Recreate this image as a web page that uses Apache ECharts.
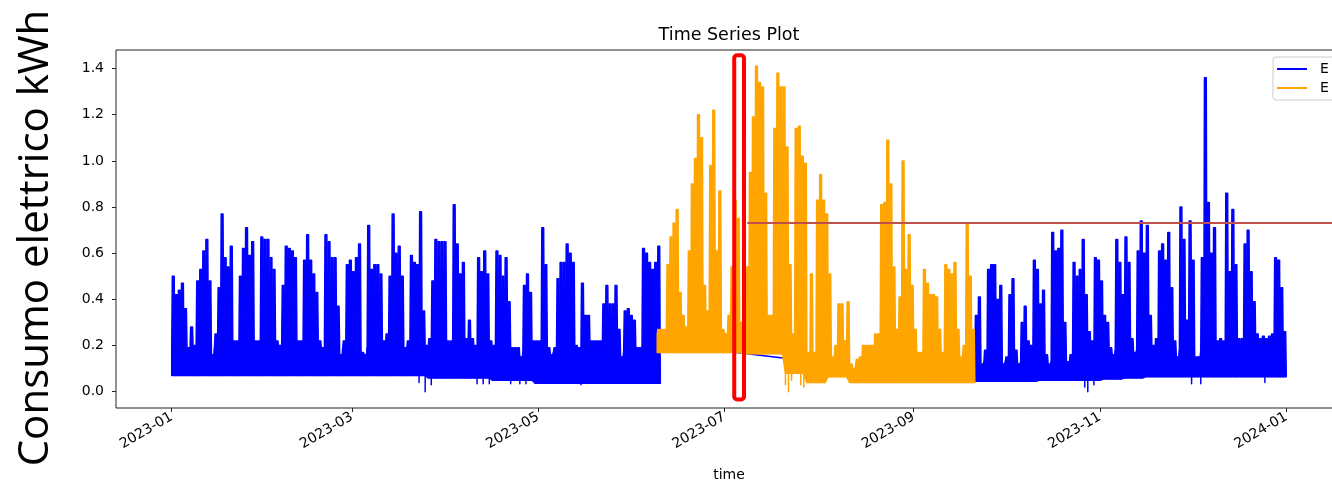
<!DOCTYPE html>
<html>
<head>
<meta charset="utf-8">
<title>Time Series Plot</title>
<script src="https://cdn.jsdelivr.net/npm/echarts@6.0.0/dist/echarts.min.js"></script>
<style>
	html, body { margin: 0; padding: 0; background: #fff; }
	#chart { width: 1332px; height: 483px; }
</style>
</head>
<body>
<div id="chart"></div>
<script>
//------------------------data------------------//
// one value per day = the highest reading of that day
var blue1Start = '2023-01-01';
var blue1Peaks = [
	0.50, 0.42, 0.44, 0.47, 0.36, 0.19, 0.28, 0.20, 0.48, 0.53,
	0.61, 0.66, 0.48, 0.16, 0.25, 0.45, 0.77, 0.58, 0.54, 0.63,
	0.22, 0.22, 0.50, 0.62, 0.71, 0.59, 0.65, 0.22, 0.22, 0.67,
	0.66, 0.66, 0.58, 0.53, 0.22, 0.20, 0.46, 0.63, 0.62, 0.61,
	0.58, 0.22, 0.22, 0.57, 0.68, 0.57, 0.51, 0.43, 0.22, 0.19,
	0.68, 0.65, 0.58, 0.58, 0.37, 0.16, 0.22, 0.55, 0.57, 0.52,
	0.58, 0.64, 0.17, 0.16, 0.72, 0.53, 0.55, 0.55, 0.51, 0.22,
	0.25, 0.50, 0.77, 0.60, 0.63, 0.50, 0.19, 0.22, 0.59, 0.56,
	0.55, 0.78, 0.35, 0.20, 0.23, 0.48, 0.66, 0.65, 0.65, 0.65,
	0.22, 0.22, 0.81, 0.64, 0.51, 0.56, 0.23, 0.31, 0.23, 0.20,
	0.58, 0.52, 0.61, 0.51, 0.22, 0.20, 0.61, 0.59, 0.50, 0.58,
	0.39, 0.19, 0.19, 0.19, 0.15, 0.46, 0.51, 0.43, 0.22, 0.22,
	0.22, 0.71, 0.55, 0.19, 0.16, 0.19, 0.49, 0.56, 0.56, 0.64,
	0.60, 0.56, 0.20, 0.19, 0.47, 0.33, 0.33, 0.22, 0.22, 0.22,
	0.22, 0.38, 0.46, 0.38, 0.38, 0.46, 0.27, 0.15, 0.35, 0.36,
	0.33, 0.31, 0.19, 0.19, 0.62, 0.60, 0.56, 0.53, 0.56, 0.63
];
// floor of the dense band and its top (night level), one per week
var blue1WeekLow = [0.07, 0.07, 0.07, 0.07, 0.07, 0.07, 0.07, 0.07, 0.07, 0.07, 0.07, 0.07,
	0.06, 0.06, 0.06, 0.05, 0.05, 0.037, 0.037, 0.037, 0.037, 0.037, 0.037];
var blue1WeekBand = [0.19, 0.19, 0.19, 0.19, 0.19, 0.19, 0.19, 0.19, 0.19, 0.19, 0.19, 0.19,
	0.19, 0.17, 0.17, 0.17, 0.17, 0.17, 0.17, 0.17, 0.17, 0.17, 0.17];
// [day of year, value] readings that fall under the band
var blue1Dips = [[81, 0.04], [83, 0.0], [85, 0.03], [100, 0.035], [102, 0.035], [104, 0.035],
	[111, 0.035], [114, 0.035], [116, 0.035], [134, 0.03]];

var orangeStart = '2023-06-09';
var orangePeaks = [
	0.27, 0.27, 0.27, 0.55, 0.67, 0.73, 0.79, 0.43, 0.33, 0.28,
	0.61, 0.90, 1.01, 1.20, 1.10, 0.46, 0.35, 0.98, 1.22, 0.61,
	0.87, 0.27, 0.25, 0.33, 0.54, 0.83, 0.75, 0.30, 0.25, 0.54,
	0.95, 1.19, 1.41, 1.34, 1.32, 0.86, 0.33, 0.33, 1.14, 1.38,
	1.32, 1.32, 1.06, 0.55, 0.25, 1.14, 1.15, 1.02, 0.99, 0.17,
	0.51, 0.17, 0.83, 0.94, 0.83, 0.77, 0.51, 0.15, 0.20, 0.38,
	0.38, 0.22, 0.39, 0.12, 0.10, 0.14, 0.15, 0.20, 0.20, 0.20,
	0.20, 0.25, 0.25, 0.81, 0.82, 1.09, 0.90, 0.54, 0.27, 0.41,
	1.00, 0.53, 0.68, 0.46, 0.27, 0.17, 0.17, 0.53, 0.47, 0.42,
	0.42, 0.41, 0.27, 0.17, 0.55, 0.53, 0.51, 0.56, 0.27, 0.15,
	0.20, 0.73, 0.50, 0.27
];
var orangeWeekLow = [0.17, 0.17, 0.17, 0.17, 0.165, 0.165, 0.08, 0.04, 0.065, 0.04, 0.04, 0.04, 0.04, 0.04, 0.04];
var orangeWeekBand = [0.25, 0.25, 0.25, 0.25, 0.25, 0.25, 0.2, 0.12, 0.15, 0.12, 0.15, 0.18, 0.15, 0.15, 0.15];
var orangeDips = [[201, 0.03], [202, 0.0], [203, 0.05], [206, 0.03], [207, 0.02]];

var blue2Start = '2023-09-21';
var blue2Peaks = [
	0.33, 0.41, 0.12, 0.18, 0.53, 0.55, 0.55, 0.40, 0.46, 0.12,
	0.15, 0.42, 0.49, 0.18, 0.12, 0.30, 0.37, 0.22, 0.20, 0.57,
	0.53, 0.38, 0.44, 0.16, 0.12, 0.69, 0.61, 0.62, 0.70, 0.30,
	0.13, 0.16, 0.56, 0.50, 0.53, 0.66, 0.42, 0.26, 0.22, 0.58,
	0.57, 0.48, 0.33, 0.30, 0.19, 0.16, 0.66, 0.56, 0.42, 0.67,
	0.56, 0.23, 0.17, 0.61, 0.74, 0.60, 0.72, 0.33, 0.20, 0.23,
	0.61, 0.64, 0.57, 0.69, 0.45, 0.22, 0.15, 0.80, 0.66, 0.31,
	0.74, 0.57, 0.15, 0.15, 0.58, 1.36, 0.82, 0.60, 0.71, 0.22,
	0.23, 0.22, 0.86, 0.52, 0.79, 0.55, 0.23, 0.23, 0.64, 0.70,
	0.52, 0.39, 0.25, 0.23, 0.24, 0.23, 0.24, 0.25, 0.58, 0.57,
	0.45, 0.26
];
var blue2WeekLow = [0.045, 0.045, 0.045, 0.05, 0.05, 0.05, 0.055, 0.06, 0.065, 0.065, 0.065, 0.065, 0.065, 0.065, 0.065];
var blue2WeekBand = [0.13, 0.13, 0.13, 0.13, 0.13, 0.13, 0.18, 0.18, 0.18, 0.18, 0.18, 0.18, 0.18, 0.18, 0.18];
var blue2Dips = [[299, 0.02], [300, 0.0], [302, 0.03], [334, 0.035], [337, 0.035], [358, 0.04]];

// straight blue line across the missing stretch
var blueGapTimes = ['2023-06-09 10:00', '2023-07-30 12:00'];
var blueGapValues = [0.21, 0.13];

var xTickLabels = ['2023-01', '2023-03', '2023-05', '2023-07', '2023-09', '2023-11', '2024-01'];
var yTickValues = [0, 0.2, 0.4, 0.6, 0.8, 1.0, 1.2, 1.4];
var legendLabels = { 'E_blue': 'E', 'E_orange': 'E' };

// annotations added on top of the plot
var redBoxFrom = '2023-07-04 05:00';
var redBoxTo = '2023-07-07 10:00';
var redBoxTop = 1.458;
var redBoxBottom = -0.034;
var redLineFrom = '2023-07-08 12:00';
var redLineValue = 0.73;

//------------------------helpers------------------//
// x is measured in days from 2023-01-01
var DAY = 86400000;
var T0 = Date.UTC(2023, 0, 1);

function dayOf(str) {
	var p = str.split(/[- :]/);
	var t = Date.UTC(+p[0], p[1] - 1, +(p[2] || 1), +(p[3] || 0), +(p[4] || 0));
	return (t - T0) / DAY;
}

// one item per day: [day, floor, first reading, night level, peak, next night level, next floor]
function buildBand(start, peaks, weekLow, weekBand, dips) {
	var dipMap = {};
	dips.forEach(function (p) { dipMap[p[0]] = p[1]; });
	var s = Math.round(dayOf(start));
	var n = peaks.length;
	function lowAt(i) { return weekLow[Math.floor(Math.min(i, n - 1) / 7)]; }
	function nightAt(i) {
		if (i >= n) return lowAt(n - 1);
		return Math.min(peaks[i], weekBand[Math.floor(i / 7)]);
	}
	function firstAt(i) {
		return dipMap[s + i] !== undefined ? dipMap[s + i] : lowAt(i);
	}
	var items = [];
	for (var i = 0; i < n; i++) {
		items.push([s + i, lowAt(i), firstAt(i), nightAt(i), peaks[i], nightAt(i + 1), lowAt(i + 1)]);
	}
	return items;
}

// the day's peak is held through the middle of the day
function renderBand(color) {
	return function (params, api) {
		var d = api.value(0);
		var pts = [
			api.coord([d, api.value(1)]),
			api.coord([d, api.value(2)]),
			api.coord([d, api.value(3)]),
			api.coord([d + 0.2, api.value(4)]),
			api.coord([d + 0.8, api.value(4)]),
			api.coord([d + 1, api.value(5)]),
			api.coord([d + 1, api.value(6)])
		];
		return {
			type: 'polygon',
			shape: { points: pts },
			style: { fill: color, stroke: color, lineWidth: 1.5, lineJoin: 'round' }
		};
	};
}

function bandSeries(name, items, color) {
	return {
		name: name, type: 'custom', data: items,
		encode: { x: 0, y: 4 },
		renderItem: renderBand(color),
		itemStyle: { color: color },
		silent: true, clip: true, z: 2
	};
}

//------------------------chart------------------//
var BLUE = '#0000ff';
var ORANGE = '#ffa500';
var FONT = '"DejaVu Sans", sans-serif';

var xMin = -18.25;
var xMax = 383.25;
var xTickDays = xTickLabels.map(function (s) { return dayOf(s + '-01'); });

var blueGap = blueGapTimes.map(function (t, i) { return [dayOf(t), blueGapValues[i]]; });

var series = [
	bandSeries('E_blue', buildBand(blue1Start, blue1Peaks, blue1WeekLow, blue1WeekBand, blue1Dips), BLUE),
	{
		// drawn under the orange band
		name: 'E_blue', type: 'line', data: blueGap, symbol: 'none', silent: true, z: 1,
		itemStyle: { color: BLUE }, lineStyle: { color: BLUE, width: 1.5 }
	},
	bandSeries('E_blue', buildBand(blue2Start, blue2Peaks, blue2WeekLow, blue2WeekBand, blue2Dips), BLUE),
	bandSeries('E_orange', buildBand(orangeStart, orangePeaks, orangeWeekLow, orangeWeekBand, orangeDips), ORANGE),
	{
		// red box
		type: 'custom', silent: true, z: 10,
		data: [[dayOf(redBoxFrom), dayOf(redBoxTo), redBoxTop, redBoxBottom]],
		encode: { x: [0, 1], y: [2, 3] },
		renderItem: function (params, api) {
			var p1 = api.coord([api.value(0), api.value(2)]);
			var p2 = api.coord([api.value(1), api.value(3)]);
			return {
				type: 'rect',
				shape: { x: p1[0], y: p1[1], width: p2[0] - p1[0], height: p2[1] - p1[1], r: 3 },
				style: { fill: 'none', stroke: '#ff0000', lineWidth: 4 }
			};
		}
	},
	{
		// red horizontal line
		type: 'line', data: [[xMin, -1]], symbol: 'none', silent: true, z: 10,
		lineStyle: { opacity: 0 },
		markLine: {
			silent: true,
			symbol: ['none', 'none'],
			label: { show: false },
			lineStyle: { color: '#c0504d', width: 2, type: 'solid' },
			data: [[{ coord: [dayOf(redLineFrom), redLineValue] }, { coord: [xMax, redLineValue] }]]
		}
	}
];

var chart = echarts.init(document.getElementById('chart'), null, { renderer: 'canvas' });
chart.setOption({
	animation: false,
	backgroundColor: '#ffffff',
	textStyle: { fontFamily: FONT },
	grid: {
		left: 116, right: -10, top: 50, bottom: 75,
		show: true, borderColor: '#222', borderWidth: 1,
		containLabel: false, outerBoundsMode: 'none'
	},
	legend: {
		data: ['E_blue', 'E_orange'],
		formatter: function (name) { return legendLabels[name]; },
		orient: 'vertical', left: 1273, top: 57,
		padding: [5, 40, 5, 4], itemGap: 5,
		icon: 'rect', itemWidth: 30, itemHeight: 2,
		borderColor: '#cccccc', borderWidth: 1, borderRadius: 3,
		backgroundColor: 'rgba(255,255,255,0.8)',
		textStyle: { fontFamily: FONT, fontSize: 14, color: '#000', padding: [0, 0, 0, 8] }
	},
	xAxis: {
		type: 'value', min: xMin, max: xMax,
		name: 'time', nameLocation: 'middle', nameGap: 60,
		nameTextStyle: { fontFamily: FONT, fontSize: 14, color: '#000' },
		axisLine: { show: false, onZero: false },
		axisTick: { show: true, length: 4, customValues: xTickDays, lineStyle: { color: '#222' } },
		axisLabel: {
			customValues: xTickDays, rotate: 30, margin: 8,
			fontFamily: FONT, fontSize: 14, color: '#000',
			formatter: function (v) {
				var i = xTickDays.indexOf(v);
				return i >= 0 ? xTickLabels[i] : '';
			}
		},
		splitLine: { show: false }
	},
	yAxis: {
		type: 'value', min: -0.0705, max: 1.4805,
		axisLine: { show: false, onZero: false },
		axisTick: { show: true, length: 4, customValues: yTickValues, lineStyle: { color: '#222' } },
		axisLabel: {
			customValues: yTickValues, margin: 12,
			fontFamily: FONT, fontSize: 14, color: '#000',
			formatter: function (v) { return v.toFixed(1); }
		},
		splitLine: { show: false }
	},
	graphic: [
		{
			type: 'text', x: 36, y: 238, rotation: Math.PI / 2, silent: true,
			style: {
				text: 'Consumo elettrico kWh', fill: '#000',
				font: '42px "Open Sans", sans-serif',
				align: 'center', verticalAlign: 'middle',
				textAlign: 'center', textVerticalAlign: 'middle'
			}
		},
		{
			type: 'text', x: 729, y: 35, silent: true,
			style: {
				text: 'Time Series Plot', fill: '#000',
				font: '17.5px "DejaVu Sans", sans-serif',
				align: 'center', verticalAlign: 'middle',
				textAlign: 'center', textVerticalAlign: 'middle'
			}
		}
	],
	series: series
});
</script>
</body>
</html>
